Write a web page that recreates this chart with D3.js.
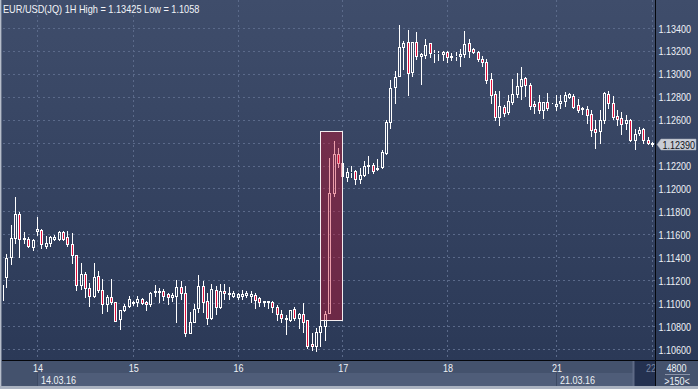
<!DOCTYPE html>
<html><head><meta charset="utf-8">
<script src="https://cdn.jsdelivr.net/npm/d3@7"></script>
<style>html,body{margin:0;padding:0;background:#2c3a57;overflow:hidden}</style>
</head><body><svg id="c" width="698" height="389"></svg>
<script>
// ---------------- DATA ----------------
const titleText = "EUR/USD(JQ) 1H High = 1.13425 Low = 1.1058";
const openVals = [1.11027,1.11228,1.11403,1.11568,1.11778,1.11560,1.11560,1.11490,1.11629,1.11638,
1.11498,1.11525,1.11560,1.11560,1.11621,1.11577,1.11516,1.11420,1.11158,1.11254,
1.11132,1.11062,1.11237,1.11115,1.10993,1.11054,1.11010,1.10862,1.10940,1.10975,
1.11001,1.11010,1.11036,1.11010,1.10993,1.11097,1.11097,1.11106,1.11080,1.11054,
1.11062,1.11141,1.11088,1.10740,1.10836,1.10958,1.11150,1.11019,1.10870,1.11115,
1.10966,1.11106,1.11084,1.11062,1.11054,1.11062,1.11071,1.11062,1.11071,1.11045,
1.11019,1.11019,1.11010,1.10966,1.10905,1.10870,1.10853,1.10949,1.10870,1.10905,
1.10853,1.10644,1.10626,1.10748,1.10801,1.10914,1.11961,1.12301,1.12222,1.12100,
1.12140,1.12153,1.12083,1.12118,1.12196,1.12205,1.12170,1.12188,1.12310,1.12580,
1.12885,1.12981,1.13234,1.13278,1.13016,1.13278,1.13156,1.13165,1.13269,1.13179,
1.13179,1.13173,1.13191,1.13147,1.13152,1.13156,1.13173,1.13269,1.13217,1.13191,
1.13130,1.13104,1.12955,1.12824,1.12624,1.12711,1.12667,1.12755,1.12824,1.12894,
1.12964,1.12903,1.12737,1.12755,1.12685,1.12755,1.12752,1.12722,1.12746,1.12763,
1.12801,1.12807,1.12728,1.12700,1.12694,1.12650,1.12519,1.12502,1.12598,1.12824,
1.12746,1.12633,1.12615,1.12571,1.12598,1.12423,1.12484,1.12519,1.12423,1.12401];
const highVals = [1.11228,1.11429,1.11682,1.11926,1.11795,1.11621,1.11577,1.11560,1.11751,1.11647,
1.11586,1.11586,1.11594,1.11629,1.11629,1.11629,1.11612,1.11420,1.11350,1.11272,
1.11176,1.11350,1.11280,1.11211,1.11071,1.11211,1.11010,1.10940,1.10993,1.11062,
1.11019,1.11062,1.11045,1.11019,1.11097,1.11158,1.11132,1.11123,1.11088,1.11088,
1.11202,1.11193,1.11150,1.10923,1.10993,1.11246,1.11193,1.11088,1.11167,1.11150,
1.11167,1.11167,1.11141,1.11106,1.11088,1.11115,1.11106,1.11106,1.11088,1.11054,
1.11019,1.11019,1.11019,1.10984,1.10940,1.10897,1.10940,1.10966,1.10914,1.11001,
1.10853,1.10740,1.10783,1.10914,1.10931,1.12266,1.12414,1.12353,1.12222,1.12179,
1.12196,1.12161,1.12179,1.12240,1.12284,1.12222,1.12257,1.12336,1.12598,1.12947,
1.13025,1.13425,1.13287,1.13383,1.13278,1.13365,1.13182,1.13304,1.13269,1.13208,
1.13200,1.13200,1.13200,1.13182,1.13191,1.13217,1.13374,1.13304,1.13226,1.13200,
1.13156,1.13130,1.13008,1.12851,1.12851,1.12728,1.12817,1.12955,1.13008,1.13060,
1.12973,1.12920,1.12763,1.12817,1.12755,1.12833,1.12755,1.12817,1.12817,1.12842,
1.12833,1.12824,1.12781,1.12711,1.12720,1.12685,1.12598,1.12685,1.12842,1.12851,
1.12807,1.12685,1.12667,1.12641,1.12606,1.12519,1.12537,1.12528,1.12449,1.12406];
const lowVals = [1.10966,1.11141,1.11341,1.11525,1.11403,1.11525,1.11487,1.11461,1.11594,1.11481,
1.11481,1.11498,1.11551,1.11551,1.11551,1.11498,1.11350,1.11115,1.11123,1.11054,
1.10975,1.11054,1.11097,1.10914,1.10931,1.10993,1.10844,1.10774,1.10931,1.10966,
1.10984,1.10975,1.10993,1.10940,1.10975,1.11062,1.11010,1.11027,1.10993,1.11019,
1.10836,1.11036,1.10713,1.10740,1.10836,1.10923,1.10923,1.10818,1.10862,1.10905,
1.10958,1.11036,1.11036,1.11054,1.11036,1.11036,1.11054,1.11010,1.10958,1.10975,
1.10975,1.10958,1.10923,1.10853,1.10836,1.10731,1.10844,1.10853,1.10783,1.10748,
1.10609,1.10591,1.10580,1.10626,1.10679,1.10914,1.11935,1.12188,1.12100,1.12065,
1.12100,1.12039,1.12048,1.12109,1.12135,1.12135,1.12161,1.12179,1.12301,1.12528,
1.12746,1.12981,1.13045,1.12817,1.12981,1.13130,1.12912,1.13138,1.13147,1.13104,
1.13121,1.13121,1.13104,1.13121,1.13121,1.13069,1.13147,1.13147,1.13182,1.13112,
1.13069,1.12920,1.12746,1.12598,1.12554,1.12633,1.12650,1.12737,1.12798,1.12781,
1.12807,1.12694,1.12659,1.12659,1.12615,1.12685,1.12746,1.12685,1.12702,1.12720,
1.12790,1.12702,1.12667,1.12650,1.12571,1.12458,1.12353,1.12397,1.12571,1.12702,
1.12606,1.12554,1.12475,1.12519,1.12414,1.12345,1.12467,1.12397,1.12388,1.12371];
const closeVals = [1.11158,1.11394,1.11568,1.11778,1.11560,1.11568,1.11498,1.11551,1.11647,1.11516,
1.11525,1.11577,1.11577,1.11621,1.11560,1.11516,1.11420,1.11158,1.11254,1.11132,
1.11062,1.11228,1.11115,1.10993,1.11054,1.11010,1.10844,1.10940,1.10975,1.11036,
1.11010,1.11036,1.11001,1.10993,1.11088,1.11106,1.11106,1.11062,1.11054,1.11071,
1.11141,1.11088,1.10740,1.10836,1.10949,1.11150,1.11010,1.10870,1.11123,1.10966,
1.11106,1.11088,1.11088,1.11088,1.11080,1.11080,1.11088,1.11080,1.11027,1.11010,
1.11010,1.11010,1.10966,1.10905,1.10870,1.10862,1.10940,1.10870,1.10905,1.10836,
1.10626,1.10626,1.10748,1.10801,1.10905,1.11961,1.12301,1.12222,1.12109,1.12144,
1.12148,1.12083,1.12118,1.12196,1.12205,1.12153,1.12179,1.12318,1.12580,1.12877,
1.12973,1.13234,1.13269,1.13008,1.13278,1.13156,1.13173,1.13252,1.13182,1.13185,
1.13185,1.13191,1.13147,1.13152,1.13160,1.13173,1.13261,1.13200,1.13191,1.13130,
1.13104,1.12947,1.12816,1.12624,1.12720,1.12659,1.12763,1.12824,1.12894,1.12955,
1.12903,1.12720,1.12720,1.12685,1.12755,1.12702,1.12752,1.12737,1.12763,1.12816,
1.12822,1.12711,1.12685,1.12691,1.12641,1.12510,1.12493,1.12598,1.12833,1.12746,
1.12624,1.12606,1.12563,1.12598,1.12423,1.12475,1.12510,1.12423,1.12397,1.12390];
const priceTicks = [1.106,1.108,1.110,1.112,1.114,1.116,1.118,1.120,1.122,1.124,1.126,1.128,1.130,1.132,1.134];
const dayTickIndex = [8,30,54,78,102,127,149];
const dayTickLabels = ["14","15","16","17","18","21","22"];
const dateStripIndex = [8,127];
const dateStripLabels = ["14.03.16","21.03.16"];
const lastPrice = 1.12390;
const highlightRange = {from:73, to:78, top:1.1250, bottom:1.1085};
const footerTop = "4800", footerBottom = ">150<";

// ---------------- LAYOUT ----------------
const W=698, H=389, plotL=3, plotR=655, plotB=360;
const FONT = "'Liberation Sans',Arial,sans-serif";
const SX = 0.82;        // horizontal squeeze (narrow bitmap font look)
const SX_TITLE = 0.835;
const svg = d3.select("#c");
const x = d3.scaleLinear().domain([0, openVals.length-1]).range([2, 652]);
const y = d3.scaleLinear().domain([1.106, 1.134]).range([349, 28]);

function label(parent, tx, ty, str, fill, anchor, sx){
  return parent.append("text").attr("transform",`translate(${tx},${ty}) scale(${sx||SX},1)`)
    .attr("text-anchor",anchor||"start").attr("fill",fill)
    .style("font-family",FONT).style("font-size","11px").text(str);
}

const defs = svg.append("defs");
const grad = defs.append("linearGradient").attr("id","bg").attr("x1",0).attr("y1",0).attr("x2",0).attr("y2",1);
grad.append("stop").attr("offset","0%").attr("stop-color","#3f4d6b");
grad.append("stop").attr("offset","100%").attr("stop-color","#2b3957");
defs.append("clipPath").attr("id","plotclip").append("rect")
  .attr("x",plotL).attr("y",0).attr("width",plotR-plotL).attr("height",plotB);

svg.append("rect").attr("width",W).attr("height",plotB).attr("fill","url(#bg)");

// grid
const gridG = svg.append("g");
gridG.selectAll("line.h").data(priceTicks).join("line").attr("class","h")
  .attr("x1",plotL).attr("x2",plotR)
  .attr("y1",d=>Math.round(y(d))+0.5).attr("y2",d=>Math.round(y(d))+0.5)
  .attr("stroke","#5b6a8a").attr("stroke-dasharray","2,3");
gridG.selectAll("line.v").data(dayTickIndex).join("line").attr("class","v")
  .attr("x1",d=>Math.round(x(d))+0.5).attr("x2",d=>Math.round(x(d))+0.5)
  .attr("y1",0).attr("y2",plotB)
  .attr("stroke","#5b6a8a").attr("stroke-dasharray","2,3");

// candles
const candles = openVals.map((o,i)=>({i, o, h:highVals[i], l:lowVals[i], c:closeVals[i]}));
const cg = svg.append("g").attr("clip-path","url(#plotclip)");
function geom(d){
  const px=Math.round(x(d.i));
  const yh=Math.round(y(d.h)), yl=Math.round(y(d.l));
  const yt=Math.round(y(Math.max(d.o,d.c))), yb=Math.round(y(Math.min(d.o,d.c)));
  return {px,yh,yl,yt,yb};
}
const cs = cg.selectAll("g.c").data(candles).join("g").attr("class","c");
cs.each(function(d){
  const g=geom(d), s=d3.select(this);
  if(g.yt>g.yh) s.append("line").attr("x1",g.px+0.5).attr("x2",g.px+0.5).attr("y1",g.yh).attr("y2",g.yt).attr("stroke","#ffffff");
  if(g.yl>g.yb) s.append("line").attr("x1",g.px+0.5).attr("x2",g.px+0.5).attr("y1",g.yb+1).attr("y2",g.yl+1).attr("stroke","#ffffff");
  s.append("rect").attr("x",g.px-0.5).attr("y",g.yt+0.5).attr("width",2).attr("height",g.yb-g.yt)
    .attr("fill", d.c<d.o ? "#e0103c" : "none").attr("stroke","#ffffff");
});

// highlight box
const hx0=Math.round(x(highlightRange.from)), hx1=Math.round(x(highlightRange.to));
const hy0=Math.round(y(highlightRange.top)), hy1=Math.round(y(highlightRange.bottom));
svg.append("rect").attr("x",hx0+0.5).attr("y",hy0+0.5).attr("width",hx1-hx0).attr("height",hy1-hy0)
  .attr("fill","rgba(205,12,42,0.4)").attr("stroke","#f4eef0");

// title
label(svg, 3, 12.5, titleText, "#f2f4f8", "start", SX_TITLE);

// right axis
svg.append("rect").attr("x",plotR).attr("y",0).attr("width",W-plotR).attr("height",plotB).attr("fill","url(#bg)");
const ya = svg.append("g").attr("transform",`translate(${plotR},0)`)
  .call(d3.axisRight(y).tickValues(priceTicks).tickFormat(d3.format(".5f")).tickSize(0).tickPadding(0));
ya.select(".domain").remove();
ya.selectAll(".tick").filter(d=>Math.abs(d-lastPrice)<0.0013).remove();
ya.selectAll("text").attr("x",null).attr("dy",null)
  .attr("transform",`translate(3.5,4) scale(${SX},1)`)
  .attr("fill","#eef1f6").style("font-family",FONT).style("font-size","11px");

// last price tag
const ly = Math.round(y(lastPrice))+0.5;
svg.append("path").attr("d",`M657,${ly} L661,${ly-5.5} L696,${ly-5.5} L696,${ly+5.5} L661,${ly+5.5} Z`)
  .attr("fill","#c9cdd6").attr("stroke","#9ea4b2").attr("stroke-width",0.5);
label(svg, 662.5, ly+4, d3.format(".5f")(lastPrice), "#10131a");

// bottom axis area
svg.append("rect").attr("x",0).attr("y",plotB).attr("width",W).attr("height",H-plotB).attr("fill","#44526d");
const futureLeft = Math.round(x(dayTickIndex[dayTickIndex.length-1]))-19;
const stripL = Math.round(x(dateStripIndex[0]));
svg.append("rect").attr("x",stripL).attr("y",373).attr("width",futureLeft-stripL).attr("height",13).attr("fill","#4f5d79");
dateStripIndex.forEach((d,k)=>{
  const sx=Math.round(x(d));
  svg.append("line").attr("x1",sx+0.5).attr("x2",sx+0.5).attr("y1",373).attr("y2",386).attr("stroke","#3c4963");
  label(svg, sx+4, 383.5, dateStripLabels[k], "#eef1f6");
});
svg.append("rect").attr("x",futureLeft).attr("y",361).attr("width",plotR-futureLeft).attr("height",26).attr("fill","#243150");
svg.append("line").attr("x1",futureLeft+0.5).attr("x2",futureLeft+0.5).attr("y1",361).attr("y2",387).attr("stroke","#5e6a86").attr("stroke-width",2);

const xa = svg.append("g").attr("transform",`translate(0.5,${plotB})`)
  .call(d3.axisBottom(x).tickValues(dayTickIndex).tickFormat((d,k)=>dayTickLabels[k]).tickSize(0).tickPadding(0));
xa.select(".domain").remove();
xa.selectAll("text").attr("y",null).attr("dy",null)
  .attr("transform",`translate(0,12) scale(${SX},1)`)
  .attr("fill",(d,k)=>k===dayTickIndex.length-1?"#7a85a0":"#eef1f6")
  .style("font-family",FONT).style("font-size","11px");
xa.selectAll(".tick").filter((d,k)=>k===dayTickIndex.length-1).select("text")
  .attr("transform",`translate(-2,12) scale(${SX},1)`);

// footer box
label(svg, 676.5, 371.5, footerTop, "#eef1f6", "middle");
svg.append("line").attr("x1",665).attr("x2",690).attr("y1",374.5).attr("y2",374.5).attr("stroke","#8a93a8");
label(svg, 677, 384.5, footerBottom, "#eef1f6", "middle");

// separators & frame
svg.append("line").attr("x1",0).attr("x2",W).attr("y1",plotB+0.5).attr("y2",plotB+0.5).attr("stroke","#05070c");
svg.append("line").attr("x1",plotR+0.5).attr("x2",plotR+0.5).attr("y1",0).attr("y2",387).attr("stroke","#05070c");
svg.append("rect").attr("x",0).attr("y",0).attr("width",1).attr("height",H).attr("fill","#b6bdca");
svg.append("rect").attr("x",1).attr("y",0).attr("width",1).attr("height",H).attr("fill","#6b768c");
svg.append("rect").attr("x",0).attr("y",386).attr("width",W).attr("height",3).attr("fill","#aab2c0");
</script></body></html>
